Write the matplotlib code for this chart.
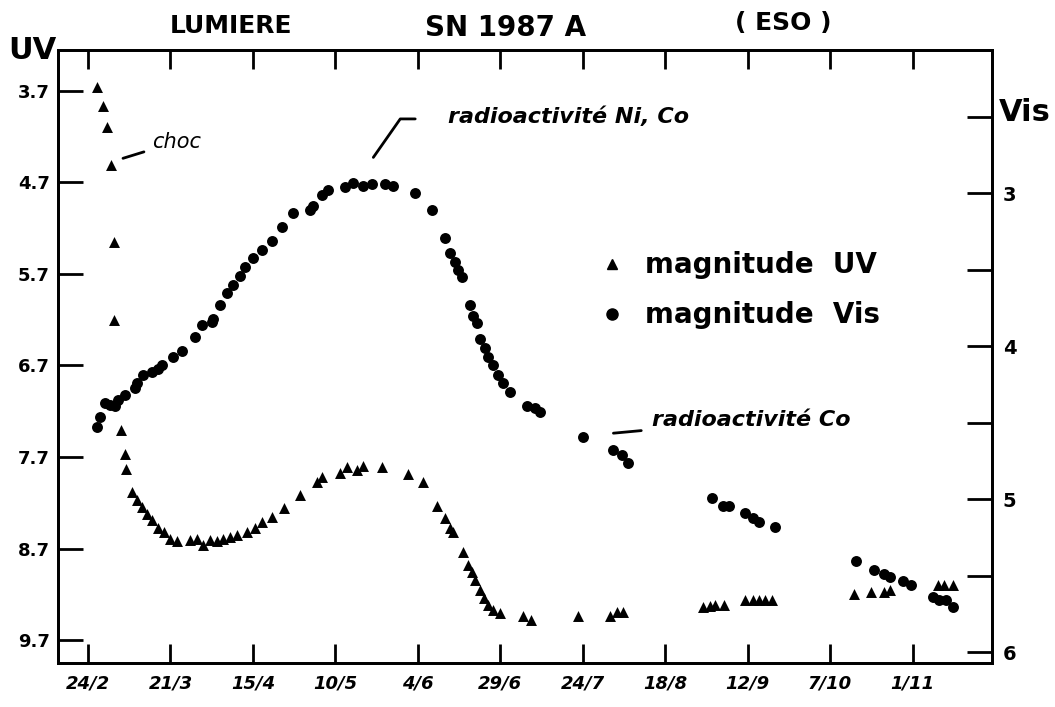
import numpy as np
import matplotlib.pyplot as plt
from matplotlib.lines import Line2D
import matplotlib.transforms as mtransforms

# days counted from 24 February 1987
date_ticks = np.arange(0, 275, 25)
date_labels = ['24/2', '21/3', '15/4', '10/5', '4/6', '29/6', '24/7',
               '18/8', '12/9', '7/10', '1/11']

uv_ticks = [3.7, 4.7, 5.7, 6.7, 7.7, 8.7, 9.7]
vis_ticks = [2.5, 3, 3.5, 4, 4.5, 5, 5.5, 6]
vis_labels = ['', '3', '', '4', '', '5', '', '6']

# UV magnitude (triangles)
uv_day = [2.7, 4.6, 5.8, 7.0, 7.9, 7.9, 10.0, 11.2, 11.5, 13.3, 14.9, 16.4,
          17.9, 19.4, 21.2, 23.1, 24.9, 27.0, 30.9, 33.1, 34.9, 37.0, 39.0,
          41.0, 43.1, 45.2, 48.2, 50.7, 52.8, 55.8, 59.5, 64.3, 69.5, 71.0,
          76.5, 78.6, 81.6, 83.4, 89.2, 97.1, 101.6, 105.9, 108.3, 109.8,
          110.7, 113.8, 115.3, 116.5, 117.4, 118.9, 120.1, 121.4, 122.9,
          125.0, 132.0, 134.4, 148.7, 158.4, 160.5, 162.3, 186.6, 188.7,
          190.2, 192.7, 199.3, 201.5, 203.3, 205.4, 207.5, 232.1, 237.3,
          241.2, 243.3, 257.6, 259.4, 262.4]
uv_mag = [3.66, 3.87, 4.10, 4.51, 5.35, 6.21, 7.41, 7.67, 7.83, 8.08, 8.17,
          8.25, 8.32, 8.39, 8.47, 8.52, 8.59, 8.62, 8.61, 8.59, 8.66, 8.61,
          8.62, 8.60, 8.57, 8.55, 8.52, 8.48, 8.41, 8.36, 8.26, 8.12, 7.97,
          7.92, 7.87, 7.81, 7.84, 7.80, 7.81, 7.88, 7.97, 8.23, 8.37, 8.47,
          8.52, 8.74, 8.88, 8.96, 9.04, 9.15, 9.24, 9.31, 9.37, 9.40, 9.43,
          9.48, 9.43, 9.43, 9.39, 9.39, 9.34, 9.33, 9.32, 9.32, 9.26, 9.26,
          9.26, 9.26, 9.26, 9.19, 9.17, 9.17, 9.15, 9.10, 9.10, 9.10]

# visual magnitude (dots)
vis_day = [2.7, 3.6, 5.2, 6.7, 8.2, 9.1, 11.2, 14.3, 14.9, 16.7, 19.4, 21.2,
           22.5, 25.8, 28.5, 32.5, 34.6, 37.6, 37.9, 40.0, 42.2, 44.0, 46.1,
           47.6, 50.1, 52.8, 55.8, 58.9, 62.2, 67.4, 68.3, 71.0, 72.8, 78.0,
           80.4, 83.4, 86.2, 90.1, 92.5, 99.2, 104.4, 108.3, 109.8, 111.3,
           112.3, 113.5, 115.9, 116.8, 118.0, 118.9, 120.5, 121.4, 122.9,
           124.4, 125.9, 128.0, 133.2, 135.6, 137.1, 150.2, 159.3, 162.0,
           163.8, 189.3, 192.4, 194.2, 199.3, 201.5, 203.3, 208.4, 233.0,
           238.2, 241.2, 243.3, 247.0, 249.4, 256.1, 257.9, 260.0, 262.4]
vis_mag = [4.53, 4.46, 4.37, 4.38, 4.39, 4.35, 4.32, 4.27, 4.24, 4.19, 4.17,
           4.15, 4.12, 4.07, 4.03, 3.94, 3.86, 3.84, 3.82, 3.73, 3.65, 3.60,
           3.54, 3.48, 3.42, 3.37, 3.31, 3.22, 3.13, 3.11, 3.08, 3.01, 2.98,
           2.96, 2.93, 2.95, 2.94, 2.94, 2.95, 3.00, 3.11, 3.29, 3.39, 3.45,
           3.50, 3.55, 3.73, 3.80, 3.85, 3.95, 4.01, 4.07, 4.12, 4.19, 4.24,
           4.30, 4.39, 4.40, 4.43, 4.59, 4.68, 4.71, 4.76, 4.99, 5.04, 5.04,
           5.09, 5.12, 5.15, 5.18, 5.40, 5.46, 5.49, 5.51, 5.53, 5.56, 5.64,
           5.66, 5.66, 5.70]

plt.rcParams['font.family'] = ['DejaVu Sans']

fig = plt.figure(figsize=(10.55, 7.07), dpi=100)
ax = fig.add_axes([0.055, 0.062, 0.885, 0.867])
ax2 = ax.twinx()

ax.scatter(uv_day, uv_mag, marker='^', s=62, color='black', linewidths=0, zorder=3)
ax2.scatter(vis_day, vis_mag, marker='o', s=62, color='black', linewidths=0, zorder=3)

ax.set_xlim(-9.1, 274)
ax.set_ylim(9.95, 3.26)
ax2.set_ylim(6.07, 2.065)

for a in (ax, ax2):
    for s in a.spines.values():
        s.set_linewidth(2)

ax.set_xticks(date_ticks)
ax.set_xticklabels(date_labels, fontsize=13, fontweight='bold', style='italic')
ax.set_yticks(uv_ticks)
ax.set_yticklabels([f'{v:.1f}' for v in uv_ticks], fontsize=13, fontweight='bold')
ax.tick_params(axis='x', direction='in', length=14, width=2, top=True, pad=8)
ax.tick_params(axis='y', direction='in', length=18, width=2, pad=6)

ax2.set_yticks(vis_ticks)
ax2.set_yticklabels(vis_labels, fontsize=14, fontweight='bold')
ax2.tick_params(axis='y', direction='in', length=18, width=2, pad=8)

# headings
fig.text(0.219, 0.963, 'LUMIERE', fontsize=18, fontweight='bold', ha='center', va='center')
fig.text(0.479, 0.961, 'SN 1987 A', fontsize=20, fontweight='bold', ha='center', va='center')
fig.text(0.742, 0.967, '( ESO )', fontsize=18, fontweight='bold', ha='center', va='center')
fig.text(0.031, 0.929, 'UV', fontsize=22, fontweight='bold', ha='center', va='center')
trans = mtransforms.blended_transform_factory(ax2.transAxes, ax2.transData)
ax2.text(1.008, 2.47, 'Vis', transform=trans, fontsize=22, fontweight='bold',
         ha='left', va='center')

# annotations
ax.annotate('choc', xy=(10.6, 4.44), xytext=(19.4, 4.26), fontsize=15,
            style='italic', va='center',
            arrowprops=dict(arrowstyle='-', lw=2, color='black', shrinkA=4, shrinkB=0))
ax.annotate('', xy=(86.5, 4.43), xytext=(99.2, 4.01),
            arrowprops=dict(arrowstyle='-', lw=2, color='black', shrinkA=0, shrinkB=0,
                            connectionstyle='angle,angleA=0,angleB=55,rad=0'))
ax.text(109.2, 3.99, 'radioactivité Ni, Co', fontsize=16, style='italic',
        fontweight='bold', va='center')
ax.annotate('radioactivité Co', xy=(159.3, 7.44), xytext=(171.1, 7.30),
            fontsize=16, style='italic', fontweight='bold', va='center',
            arrowprops=dict(arrowstyle='-', lw=2, color='black', shrinkA=6, shrinkB=0))

handles = [Line2D([], [], marker='^', ls='', color='black', markersize=7),
           Line2D([], [], marker='o', ls='', color='black', markersize=8)]
ax.legend(handles, ['magnitude  UV', 'magnitude  Vis'], loc='upper left',
          bbox_to_anchor=(0.543, 0.680), bbox_transform=fig.transFigure,
          frameon=False, handletextpad=0.7, labelspacing=0.8, handlelength=1.0,
          prop={'size': 20, 'weight': 'bold'})

fig.savefig('out.png', dpi=100, facecolor='white')
